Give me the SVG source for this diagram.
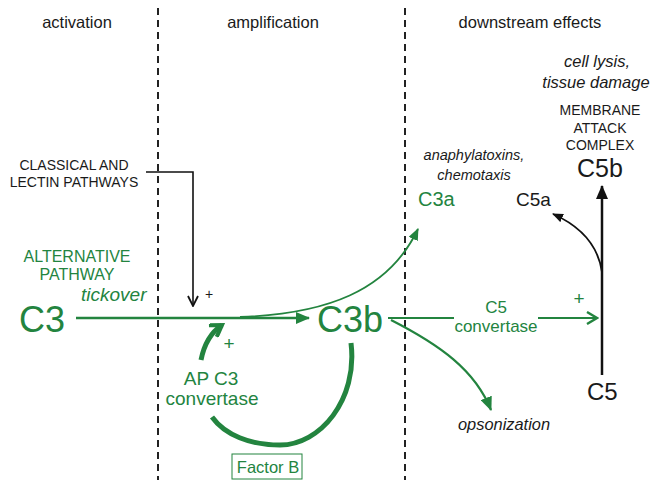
<svg xmlns="http://www.w3.org/2000/svg" width="653" height="480" viewBox="0 0 653 480">
<defs>
<style>
text{font-family:"Liberation Sans",Arial,sans-serif}
.g{fill:#23843f}
.k{fill:#1a1a1a}
.it{font-style:italic}
.gl{stroke:#23843f;fill:none}
.kl{stroke:#111;fill:none}
.div{stroke:#222;stroke-width:2;stroke-dasharray:7,5}
</style>
<marker id="ag" viewBox="0 0 14 12" refX="13" refY="6" markerWidth="14" markerHeight="12" orient="auto" markerUnits="userSpaceOnUse"><path d="M0,0 L14,6 L0,12 z" fill="#23843f"/></marker>
<marker id="ags" viewBox="0 0 12 10" refX="11" refY="5" markerWidth="12" markerHeight="10" orient="auto" markerUnits="userSpaceOnUse"><path d="M0,0 L12,5 L0,10 z" fill="#23843f"/></marker>
<marker id="agv" viewBox="0 0 14 14" refX="12" refY="7" markerWidth="14" markerHeight="14" orient="auto" markerUnits="userSpaceOnUse"><path d="M2,1 L12,7 L2,13" fill="none" stroke="#23843f" stroke-width="2.4"/></marker>
<marker id="agt" viewBox="0 0 16 16" refX="13" refY="8" markerWidth="16" markerHeight="16" orient="auto" markerUnits="userSpaceOnUse"><path d="M2,1 L13,8 L2,15" fill="none" stroke="#23843f" stroke-width="4"/></marker>
<marker id="ak" viewBox="0 0 14 12" refX="13" refY="6" markerWidth="14" markerHeight="12" orient="auto" markerUnits="userSpaceOnUse"><path d="M0,0 L14,6 L0,12 z" fill="#111"/></marker>
<marker id="aks" viewBox="0 0 11 9" refX="10" refY="4.5" markerWidth="11" markerHeight="9" orient="auto" markerUnits="userSpaceOnUse"><path d="M0,0 L11,4.5 L0,9 z" fill="#111"/></marker>
<marker id="akv" viewBox="0 0 12 12" refX="11" refY="6" markerWidth="12" markerHeight="12" orient="auto" markerUnits="userSpaceOnUse"><path d="M1,1 L11,6 L1,11" fill="none" stroke="#111" stroke-width="1.8"/></marker>
</defs>
<rect width="653" height="480" fill="#fff"/>

<g id="dividers">
<line class="div" x1="158" y1="8" x2="158" y2="480"/>
<line class="div" x1="405" y1="8" x2="405" y2="480"/>
</g>

<g id="headers" font-size="16.5">
<text x="77" y="28" text-anchor="middle" class="k">activation</text>
<text x="273" y="28" text-anchor="middle" class="k">amplification</text>
<text x="530" y="28" text-anchor="middle" class="k">downstream effects</text>
</g>

<g id="connectors">
<path class="gl" stroke-width="2.5" d="M76,318 L309,318" marker-end="url(#ag)"/>
<path class="kl" stroke-width="1.6" d="M146,172 L193,172 L193,306" marker-end="url(#akv)"/>
<path class="gl" stroke-width="1.8" d="M240,317 C325,314 388,292 418,229" marker-end="url(#ags)"/>
<path class="gl" stroke-width="2.2" d="M388,318 L454,318"/>
<path class="gl" stroke-width="2.2" d="M538,318 L597,318" marker-end="url(#agv)"/>
<path class="gl" stroke-width="2.2" d="M391,320 C440,345 475,370 491,410" marker-end="url(#ag)"/>
<path class="kl" stroke-width="2.5" d="M602,375 L602,186" marker-end="url(#ak)"/>
<path class="kl" stroke-width="1.8" d="M602,272 C598,245 580,226 553,214" marker-end="url(#aks)"/>
<path class="gl" stroke-width="5" d="M351,343 C358,400 320,445 280,445 C250,445 225,435 212,417"/>
<path class="gl" stroke-width="5" d="M201,360 C204,345 210,333 222,325" marker-end="url(#agt)"/>
</g>

<g id="c3">
<text x="19" y="332" font-size="36" class="g">C3</text>
</g>
<g id="alternative-pathway" font-size="16" text-anchor="middle">
<text x="77" y="262" class="g">ALTERNATIVE</text>
<text x="77" y="280" class="g">PATHWAY</text>
</g>
<g id="tickover"><text x="81" y="301" font-size="19" class="g it">tickover</text></g>
<g id="classical" font-size="14" text-anchor="middle">
<text x="74" y="170" class="k">CLASSICAL AND</text>
<text x="74" y="187" class="k">LECTIN PATHWAYS</text>
<text x="209" y="299" font-size="14" class="k">+</text>
</g>
<g id="c3b"><text x="317" y="332" font-size="36" class="g">C3b</text></g>
<g id="ap-c3-convertase" font-size="19" text-anchor="middle">
<text x="211" y="385" class="g">AP C3</text>
<text x="212" y="405" class="g">convertase</text>
<text x="229" y="350" font-size="19" class="g">+</text>
</g>
<g id="factor-b">
<rect x="232" y="454" width="70" height="25" fill="#fff" stroke="#23843f" stroke-width="1"/>
<text x="268" y="473" font-size="16.5" text-anchor="middle" class="g">Factor B</text>
</g>
<g id="c3a">
<text x="418" y="206" font-size="20" class="g">C3a</text>
<text x="474" y="160" font-size="14.5" text-anchor="middle" class="k it">anaphylatoxins,</text>
<text x="474" y="180" font-size="14.5" text-anchor="middle" class="k it">chemotaxis</text>
</g>
<g id="c5-convertase" font-size="17" text-anchor="middle">
<text x="496" y="313" class="g">C5</text>
<text x="496" y="332" class="g">convertase</text>
<text x="579" y="305" font-size="19" class="g">+</text>
</g>
<g id="opsonization"><text x="504" y="430" font-size="16.4" text-anchor="middle" class="k it">opsonization</text></g>
<g id="c5"><text x="587" y="400" font-size="24" class="k">C5</text></g>
<g id="c5a"><text x="516" y="206" font-size="19" class="k">C5a</text></g>
<g id="c5b">
<text x="600" y="177" font-size="25" text-anchor="middle" class="k">C5b</text>
<text x="600" y="115" font-size="14" text-anchor="middle" class="k">MEMBRANE</text>
<text x="600" y="133" font-size="14" text-anchor="middle" class="k">ATTACK</text>
<text x="600" y="150" font-size="14" text-anchor="middle" class="k">COMPLEX</text>
<text x="597" y="67" font-size="16.5" text-anchor="middle" class="k it">cell lysis,</text>
<text x="596" y="88" font-size="16.5" text-anchor="middle" class="k it">tissue damage</text>
</g>
</svg>
